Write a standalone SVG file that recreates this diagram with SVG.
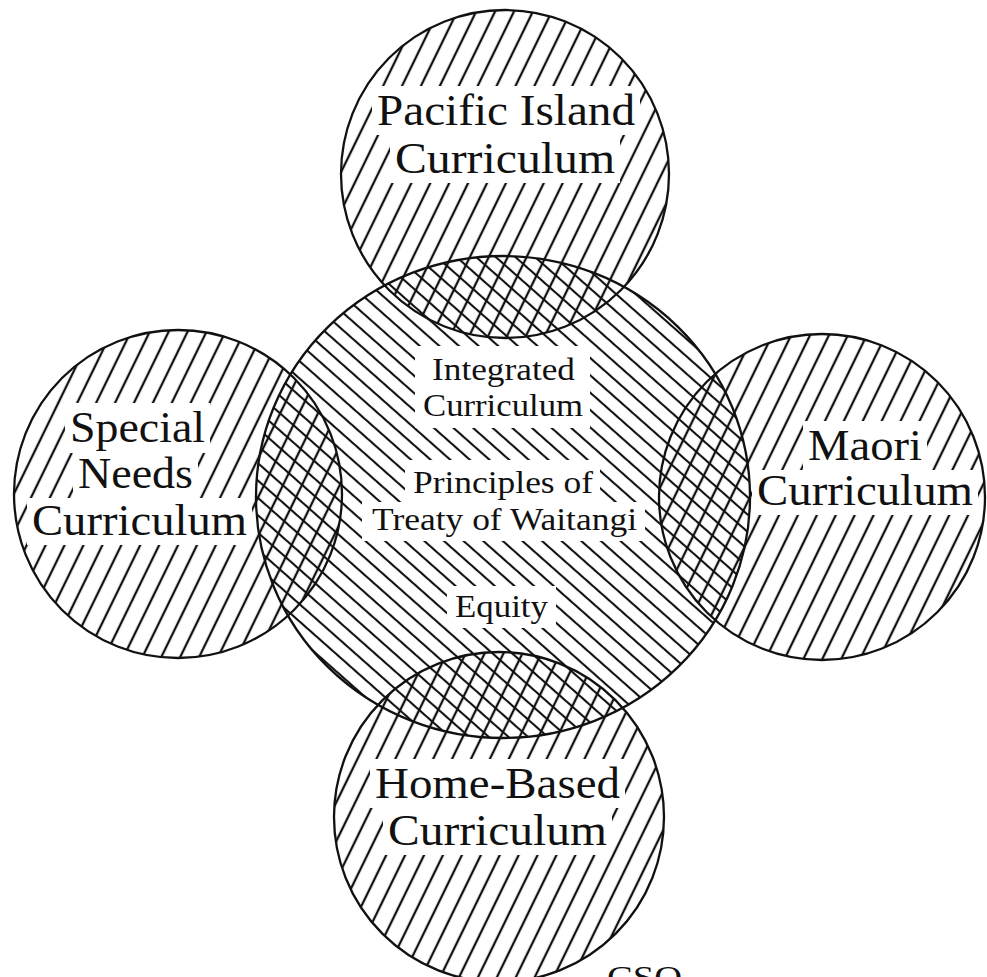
<svg xmlns="http://www.w3.org/2000/svg" width="987" height="977" viewBox="0 0 987 977">
<style>
.outline{fill:none;stroke:#111;stroke-width:2.3}
.lbl{font-family:"Liberation Serif","Times New Roman",serif;fill:#111;font-size:44px;text-anchor:start}
.lbls{font-family:"Liberation Serif","Times New Roman",serif;fill:#111;font-size:32px;text-anchor:start}
</style>
<defs>
<pattern id="hatchF" patternUnits="userSpaceOnUse" width="17" height="17" patternTransform="rotate(26)">
<line x1="8" y1="-2" x2="8" y2="19" stroke="#111" stroke-width="2.3"/>
</pattern>
<pattern id="hatchB" patternUnits="userSpaceOnUse" width="13" height="13" patternTransform="rotate(-48.5)">
<line x1="6" y1="-2" x2="6" y2="15" stroke="#111" stroke-width="2.1"/>
</pattern>
<mask id="textClear" maskUnits="userSpaceOnUse" x="0" y="0" width="987" height="977">
<rect x="0" y="0" width="987" height="977" fill="#fff"/>
<g fill="#000">
<rect x="372" y="86" width="268" height="49"/>
<rect x="390" y="135" width="230" height="48"/>
<rect x="65" y="403" width="145" height="50"/>
<rect x="73" y="453" width="125" height="45"/>
<rect x="27" y="498" width="225" height="47"/>
<rect x="803" y="421" width="124" height="49"/>
<rect x="752" y="470" width="226" height="45"/>
<rect x="370" y="759" width="255" height="49"/>
<rect x="383" y="808" width="229" height="47"/>
<rect x="415" y="346" width="175" height="82"/>
<rect x="405" y="460" width="195" height="42"/>
<rect x="362" y="502" width="283" height="39"/>
<rect x="447" y="586" width="109" height="42"/>
</g>
</mask>
</defs>
<rect x="0" y="0" width="987" height="977" fill="#fff"/>

<g id="hatching" mask="url(#textClear)">
<circle cx="505" cy="174" r="164" fill="url(#hatchF)"/>
<circle cx="178" cy="494" r="164" fill="url(#hatchF)"/>
<circle cx="822" cy="497" r="163" fill="url(#hatchF)"/>
<circle cx="499" cy="817" r="165" fill="url(#hatchF)"/>
<ellipse cx="503" cy="497" rx="247" ry="241" fill="url(#hatchB)"/>
</g>

<g id="pacific">
<circle class="outline" cx="505" cy="174" r="164"/>
<text class="lbl" x="377" y="125" textLength="258" lengthAdjust="spacingAndGlyphs">Pacific Island</text>
<text class="lbl" x="395" y="173" textLength="220" lengthAdjust="spacingAndGlyphs">Curriculum</text>
</g>

<g id="special">
<circle class="outline" cx="178" cy="494" r="164"/>
<text class="lbl" x="70" y="442" textLength="135" lengthAdjust="spacingAndGlyphs">Special</text>
<text class="lbl" x="78" y="488" textLength="115" lengthAdjust="spacingAndGlyphs">Needs</text>
<text class="lbl" x="32" y="535" textLength="215" lengthAdjust="spacingAndGlyphs">Curriculum</text>
</g>

<g id="maori">
<circle class="outline" cx="822" cy="497" r="163"/>
<text class="lbl" x="808" y="460" textLength="114" lengthAdjust="spacingAndGlyphs">Maori</text>
<text class="lbl" x="757" y="505" textLength="216" lengthAdjust="spacingAndGlyphs">Curriculum</text>
</g>

<g id="home">
<circle class="outline" cx="499" cy="817" r="165"/>
<text class="lbl" x="375" y="798" textLength="245" lengthAdjust="spacingAndGlyphs">Home-Based</text>
<text class="lbl" x="388" y="845" textLength="219" lengthAdjust="spacingAndGlyphs">Curriculum</text>
</g>

<g id="integrated">
<ellipse class="outline" cx="503" cy="497" rx="247" ry="241"/>
<text class="lbls" x="432" y="380" textLength="143" lengthAdjust="spacingAndGlyphs">Integrated</text>
<text class="lbls" x="423" y="416" textLength="160" lengthAdjust="spacingAndGlyphs">Curriculum</text>
<text class="lbls" x="413" y="493" textLength="180" lengthAdjust="spacingAndGlyphs">Principles of</text>
<text class="lbls" x="372" y="530" textLength="265" lengthAdjust="spacingAndGlyphs">Treaty of Waitangi</text>
<text class="lbls" x="455" y="617" textLength="93" lengthAdjust="spacingAndGlyphs">Equity</text>
</g>

<g id="connectors"></g>

<text class="lbls" x="607" y="988" textLength="75" lengthAdjust="spacingAndGlyphs">CSO</text>
</svg>
